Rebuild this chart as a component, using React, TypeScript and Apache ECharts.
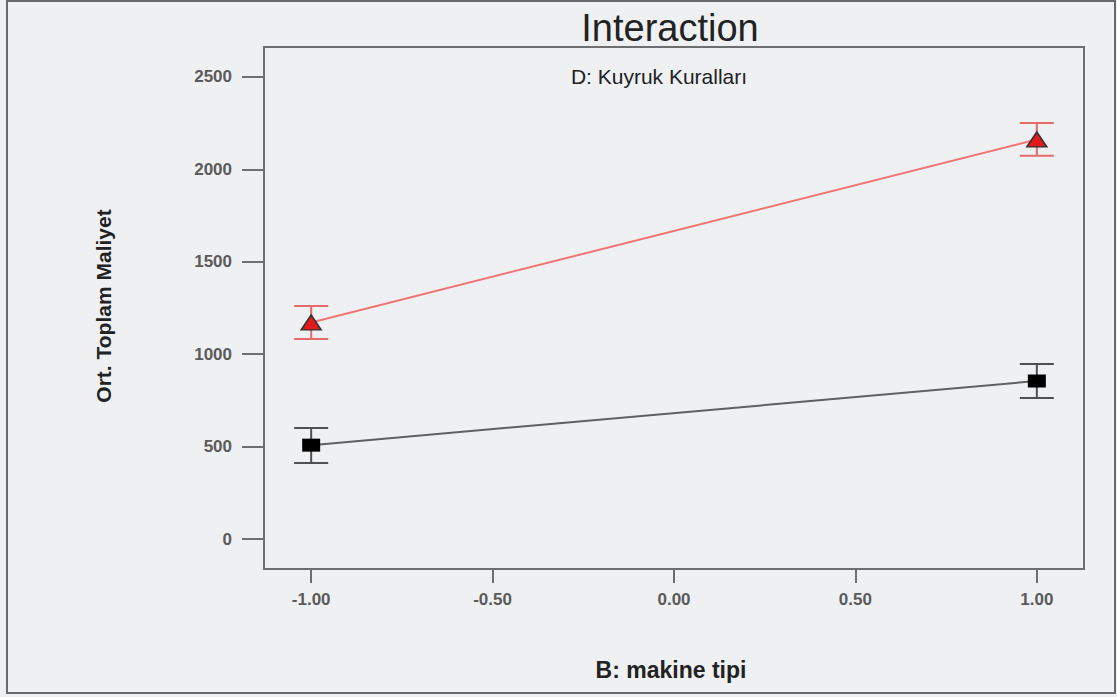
import React, { useEffect, useRef } from "react";
import * as echarts from "echarts";

const xTicks = [-1, -0.5, 0, 0.5, 1];
const yTicks = [0, 500, 1000, 1500, 2000, 2500];
const levels = [-1, 1];
const redMeans = [1172, 2162];
const redLow = [1082, 2073];
const redHigh = [1261, 2251];
const blackMeans = [508, 855];
const blackLow = [411, 763];
const blackHigh = [601, 947];

const titleText = "Interaction";
const subtitleText = "D: Kuyruk Kuralları";
const xName = "B: makine tipi";
const yName = "Ort. Toplam Maliyet";

const errRender = (color: string) => (params: any, api: any) => {
  const x = api.value(0);
  const lo = api.value(1);
  const hi = api.value(2);
  const pLo = api.coord([x, lo]);
  const pHi = api.coord([x, hi]);
  const hw = 17;
  const st = { stroke: color, lineWidth: 2 };
  return {
    type: "group",
    children: [
      { type: "line", shape: { x1: pLo[0], y1: pLo[1], x2: pHi[0], y2: pHi[1] }, style: st },
      { type: "line", shape: { x1: pLo[0] - hw, y1: pLo[1], x2: pLo[0] + hw, y2: pLo[1] }, style: st },
      { type: "line", shape: { x1: pHi[0] - hw, y1: pHi[1], x2: pHi[0] + hw, y2: pHi[1] }, style: st },
    ],
  };
};

export default function App() {
  const ref = useRef<HTMLDivElement>(null);
  useEffect(() => {
    if (!ref.current) return;
    const chart = echarts.init(ref.current, null, { renderer: "svg" });
    const font = "Arial, 'Liberation Sans', sans-serif";
    chart.setOption({
      animation: false,
      backgroundColor: "#eff0f2",
      textStyle: { fontFamily: font },
      grid: {
        left: 264,
        top: 47,
        right: 33,
        bottom: 128,
        show: true,
        borderColor: "#6e6e6e",
        borderWidth: 2,
        backgroundColor: "transparent",
      },
      xAxis: {
        type: "value",
        min: -1.13,
        max: 1.13,
        axisLine: { show: false, onZero: false },
        splitLine: { show: false },
        axisTick: {
          show: true,
          customValues: xTicks,
          length: 14,
          lineStyle: { color: "#6e6e6e", width: 2 },
        },
        axisLabel: {
          customValues: xTicks,
          formatter: (v: number) => v.toFixed(2),
          margin: 22,
          color: "#5a5a5a",
          fontWeight: "bold",
          fontSize: 17,
          fontFamily: font,
        },
      },
      yAxis: {
        type: "value",
        min: -162,
        max: 2662,
        axisLine: { show: false, onZero: false },
        splitLine: { show: false },
        axisTick: {
          show: true,
          customValues: yTicks,
          length: 22,
          lineStyle: { color: "#6e6e6e", width: 2 },
        },
        axisLabel: {
          customValues: yTicks,
          formatter: (v: number) => String(v),
          margin: 32,
          color: "#5a5a5a",
          fontWeight: "bold",
          fontSize: 17,
          fontFamily: font,
        },
      },
      graphic: [
        {
          type: "rect",
          shape: { x: 7, y: 1, width: 1108, height: 692 },
          style: { fill: "none", stroke: "#6a6a6a", lineWidth: 2 },
          silent: true,
        },
        {
          type: "text",
          x: 670,
          y: 28,
          style: {
            text: titleText,
            fill: "#222",
            font: `38px ${font}`,
            textAlign: "center",
            textVerticalAlign: "middle",
          },
        },
        {
          type: "text",
          x: 659,
          y: 76,
          style: {
            text: subtitleText,
            fill: "#222",
            font: `21px ${font}`,
            textAlign: "center",
            textVerticalAlign: "middle",
          },
        },
        {
          type: "text",
          x: 671,
          y: 670,
          style: {
            text: xName,
            fill: "#222",
            font: `bold 23px ${font}`,
            textAlign: "center",
            textVerticalAlign: "middle",
          },
        },
        {
          type: "text",
          x: 103,
          y: 306,
          rotation: Math.PI / 2,
          style: {
            text: yName,
            fill: "#222",
            font: `bold 21px ${font}`,
            textAlign: "center",
            textVerticalAlign: "middle",
          },
        },
      ],
      series: [
        {
          type: "custom",
          renderItem: errRender("#e56b6b"),
          encode: { x: 0, y: [1, 2] },
          data: levels.map((x, i) => [x, redLow[i], redHigh[i]]),
          z: 2,
        },
        {
          type: "custom",
          renderItem: errRender("#505050"),
          encode: { x: 0, y: [1, 2] },
          data: levels.map((x, i) => [x, blackLow[i], blackHigh[i]]),
          z: 2,
        },
        {
          type: "line",
          data: levels.map((x, i) => [x, redMeans[i]]),
          symbol: "triangle",
          symbolSize: [20, 15],
          lineStyle: { color: "#f07474", width: 2 },
          itemStyle: { color: "#e41a1a", borderColor: "#333", borderWidth: 1.5 },
          z: 3,
        },
        {
          type: "line",
          data: levels.map((x, i) => [x, blackMeans[i]]),
          symbol: "rect",
          symbolSize: [18, 13],
          lineStyle: { color: "#606060", width: 2 },
          itemStyle: { color: "#000", borderColor: "#000", borderWidth: 0 },
          z: 3,
        },
      ],
    });
    return () => chart.dispose();
  }, []);
  return (
    <div
      ref={ref}
      style={{ position: "absolute", left: 0, top: 0, width: 1117, height: 697 }}
    />
  );
}
